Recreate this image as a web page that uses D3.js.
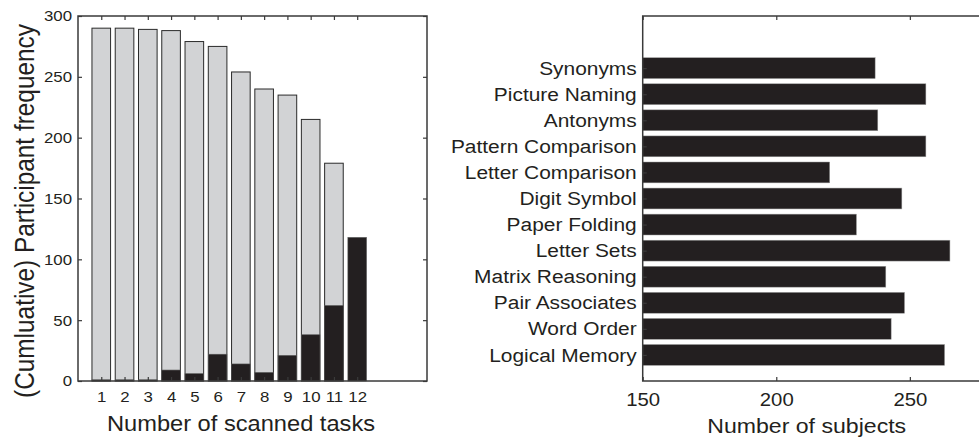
<!DOCTYPE html>
<html>
<head>
<meta charset="utf-8">
<script src="https://cdn.jsdelivr.net/npm/d3@7"></script>
<style>
  html, body { margin: 0; padding: 0; background: #fff; }
  svg { display: block; }
  text { font-family: "Liberation Sans", Arial, Helvetica, sans-serif; fill: #231f20; }
</style>
</head>
<body>
<svg id="chart" width="979" height="441"></svg>
<script>
// Left panel: participants by number of scanned tasks
const taskCounts = [1, 2, 3, 4, 5, 6, 7, 8, 9, 10, 11, 12];
const cumulativeFreq = [290, 290, 289, 288, 279, 275, 254, 240, 235, 215, 179, 0];
const exactFreq = [1, 1, 1, 9, 6, 22, 14, 7, 21, 38, 62, 118];
const leftYTicks = [0, 50, 100, 150, 200, 250, 300];

// Right panel: subjects per task (listed top to bottom)
const taskNames = ["Synonyms", "Picture Naming", "Antonyms", "Pattern Comparison",
  "Letter Comparison", "Digit Symbol", "Paper Folding", "Letter Sets",
  "Matrix Reasoning", "Pair Associates", "Word Order", "Logical Memory"];
const subjectCounts = [237, 256, 238, 256, 220, 247, 230, 265, 241, 248, 243, 263];
const rightXTicks = [150, 200, 250];

const SX = 1.1;           // horizontal stretch applied to all lettering
const INK = "#231f20";
const FRAME = "#3a3a3a";

const svg = d3.select("#chart");

// ---------- left panel ----------
const L = { left: 78, right: 427, top: 16, bottom: 381 };
const xL = d3.scaleLinear().domain([0, 15]).range([L.left, L.right]);
const yL = d3.scaleLinear().domain([0, 300]).range([L.bottom, L.top]);
const barW = 0.8;

const gL = svg.append("g");

gL.selectAll("rect.total").data(taskCounts).join("rect")
  .attr("class", "total")
  .attr("x", (d) => xL(d - barW / 2))
  .attr("width", xL(barW) - xL(0))
  .attr("y", (d, i) => yL(cumulativeFreq[i]))
  .attr("height", (d, i) => yL(0) - yL(cumulativeFreq[i]))
  .attr("fill", "#d2d3d5")
  .attr("stroke", "#2a2a2a")
  .attr("stroke-width", 1)
  .style("display", (d, i) => cumulativeFreq[i] > 0 ? null : "none");

gL.selectAll("rect.exact").data(taskCounts).join("rect")
  .attr("class", "exact")
  .attr("x", (d) => xL(d - barW / 2))
  .attr("width", xL(barW) - xL(0))
  .attr("y", (d, i) => yL(exactFreq[i]))
  .attr("height", (d, i) => yL(0) - yL(exactFreq[i]))
  .attr("fill", INK)
  .attr("stroke", "#555")
  .attr("stroke-width", 0.6);

function styleAxis(g, fontSize, padX) {
  g.select(".domain").remove();
  g.selectAll(".tick line").attr("stroke", FRAME).attr("stroke-width", 1.2);
  g.selectAll(".tick text")
    .attr("font-size", fontSize)
    .attr("fill", INK)
    .style("font-family", '"Liberation Sans", Arial, Helvetica, sans-serif');
  if (padX !== undefined) {
    g.selectAll(".tick text").attr("x", padX / SX);
  }
  g.selectAll(".tick text").attr("transform", `scale(${SX},1)`);
}

// y axis (left edge, labelled)
gL.append("g").attr("transform", `translate(${L.left},0)`)
  .call(d3.axisLeft(yL).tickValues(leftYTicks).tickSize(-4).tickSizeOuter(0).tickPadding(6))
  .call((g) => styleAxis(g, 15.3, -6));
// y ticks mirrored on right edge
gL.append("g").attr("transform", `translate(${L.right},0)`)
  .call(d3.axisRight(yL).tickValues(leftYTicks).tickSize(-4).tickSizeOuter(0).tickFormat(""))
  .call((g) => styleAxis(g, 15.3));
// x axis (bottom, labelled)
gL.append("g").attr("transform", `translate(0,${L.bottom})`)
  .call(d3.axisBottom(xL).tickValues(taskCounts).tickSize(-4).tickSizeOuter(0).tickPadding(10.5))
  .call((g) => styleAxis(g, 15.3));
// x ticks mirrored on top edge
gL.append("g").attr("transform", `translate(0,${L.top})`)
  .call(d3.axisTop(xL).tickValues(taskCounts).tickSize(-4).tickSizeOuter(0).tickFormat(""))
  .call((g) => styleAxis(g, 15.3));

gL.append("rect")
  .attr("x", L.left).attr("y", L.top)
  .attr("width", L.right - L.left).attr("height", L.bottom - L.top)
  .attr("fill", "none").attr("stroke", FRAME).attr("stroke-width", 1.5);

gL.append("text")
  .attr("transform", `translate(241,431) scale(${SX},1)`)
  .attr("text-anchor", "middle")
  .attr("font-size", 21.5)
  .text("Number of scanned tasks");

gL.append("text")
  .attr("transform", `translate(34,211) scale(${SX},1) rotate(-90)`)
  .attr("text-anchor", "middle")
  .attr("font-size", 24.4)
  .text("(Cumluative) Participant frequency");

// ---------- right panel ----------
const R = { left: 642.7, right: 990, top: 16, bottom: 381 };
const xR = d3.scaleLinear().domain([150, 280]).range([R.left, R.right]);
const yR = d3.scaleLinear().domain([0, 14]).range([R.bottom, R.top]);
const n = taskNames.length;
const posOf = (i) => n - i;   // first task sits highest
const hBar = 0.8;

const gR = svg.append("g");

gR.selectAll("rect.subj").data(subjectCounts).join("rect")
  .attr("class", "subj")
  .attr("x", xR(150))
  .attr("width", (d) => xR(d) - xR(150))
  .attr("y", (d, i) => yR(posOf(i) + hBar / 2))
  .attr("height", yR(0) - yR(hBar))
  .attr("fill", INK)
  .attr("stroke", "#9a9a9a")
  .attr("stroke-width", 0.5);

const catPositions = taskNames.map((d, i) => posOf(i));
gR.append("g").attr("transform", `translate(${R.left},0)`)
  .call(d3.axisLeft(yR).tickValues(catPositions)
    .tickFormat((p) => taskNames[n - p]).tickSize(-4).tickSizeOuter(0).tickPadding(6))
  .call((g) => styleAxis(g, 19, -6));

gR.append("g").attr("transform", `translate(0,${R.bottom})`)
  .call(d3.axisBottom(xR).tickValues(rightXTicks).tickSize(-4).tickSizeOuter(0).tickPadding(11.5))
  .call((g) => styleAxis(g, 18.5));
gR.append("g").attr("transform", `translate(0,${R.top})`)
  .call(d3.axisTop(xR).tickValues(rightXTicks).tickSize(-4).tickSizeOuter(0).tickFormat(""))
  .call((g) => styleAxis(g, 18.5));

gR.append("path")
  .attr("d", `M${R.right},${R.top}H${R.left}V${R.bottom}H${R.right}`)
  .attr("fill", "none").attr("stroke", FRAME).attr("stroke-width", 1.5);

gR.append("text")
  .attr("transform", `translate(806.7,433) scale(${SX},1)`)
  .attr("text-anchor", "middle")
  .attr("font-size", 21)
  .text("Number of subjects");
</script>
</body>
</html>
